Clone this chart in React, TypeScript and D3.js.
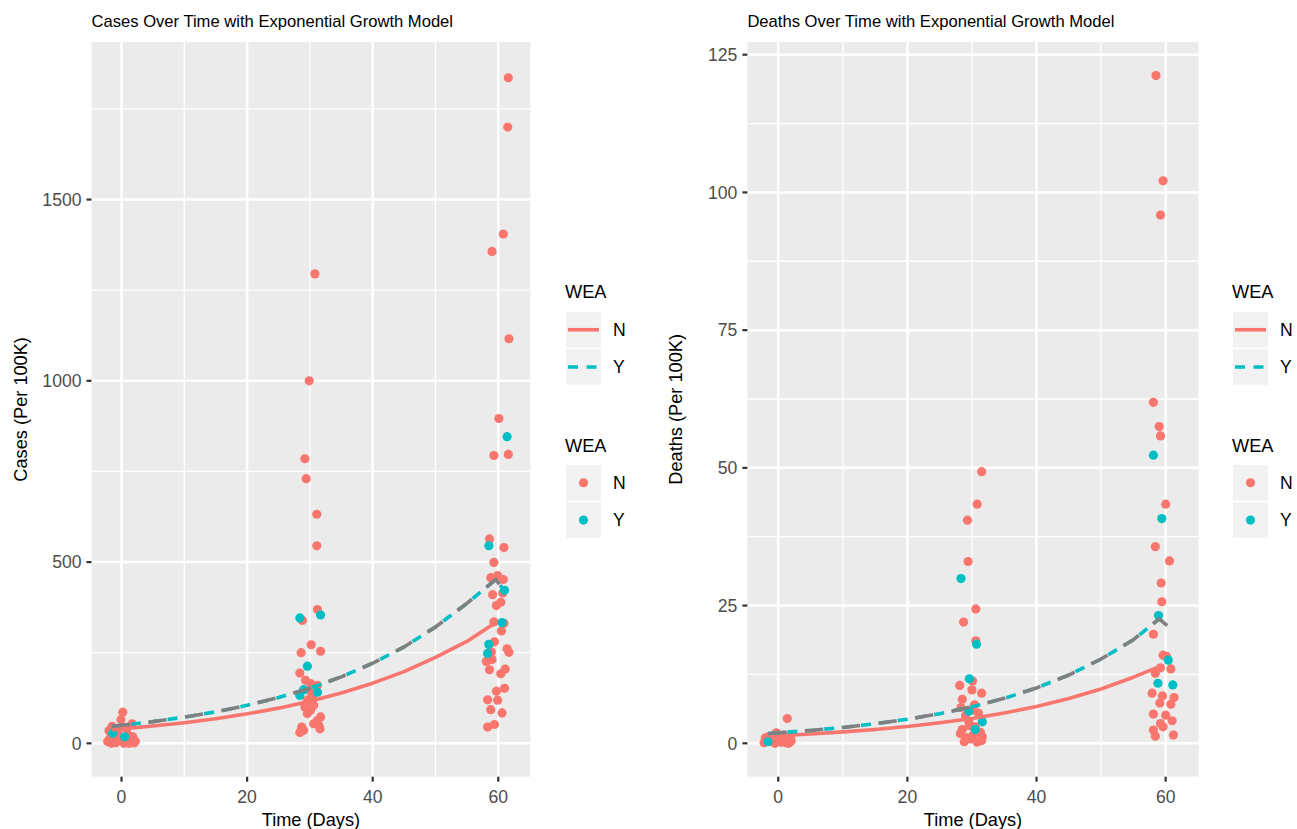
import React from "react";
import * as d3 from "d3";

type P = [number, number];

const timeTicks = [0, 20, 40, 60];
const timeMinor = [10, 30, 50];
const casesTicks = [0, 500, 1000, 1500];
const casesMinor = [250, 750, 1250, 1750];
const deathsTicks = [0, 25, 50, 75, 100, 125];
const deathsMinor = [12.5, 37.5, 62.5, 87.5, 112.5];
const groups = ["N", "Y"];

const casesN: P[] = [
  [-2.2, 5], [-1.9, 12], [-1.5, 47], [-1.2, 20], [-0.9, 2], [-0.6, 30], [-0.3, 8], [0.2, 86], [-0.1, 65], [0.3, 15],
  [0.6, 3], [1.0, 25], [1.4, 10], [1.7, 54], [2.0, 1], [2.2, 6], [-2.0, 35], [0.8, 40], [1.2, 0], [-1.6, 0], [0.4, 0], [1.8, 18],
  [30.8, 1295], [29.9, 1000], [29.2, 785], [29.4, 730], [31.1, 632], [31.1, 545], [31.2, 369], [28.8, 339], [30.2, 272],
  [28.6, 250], [31.7, 254], [28.4, 194], [29.3, 174], [30.1, 165], [31.2, 160], [30.4, 128], [29.6, 119], [30.6, 105],
  [30.1, 91], [29.6, 82], [31.7, 73], [31.2, 63], [30.6, 54], [28.7, 45], [29.0, 36], [31.4, 50], [28.4, 30], [31.6, 40],
  [30.2, 140], [29.2, 100],
  [61.6, 1836], [61.5, 1700], [60.8, 1405], [59.0, 1357], [61.7, 1116], [60.1, 896], [59.3, 794], [61.6, 797], [58.6, 564],
  [60.9, 540], [59.3, 499], [58.8, 457], [59.9, 463], [60.8, 452], [60.7, 415], [59.1, 410], [60.4, 389], [59.7, 380],
  [59.3, 335], [60.9, 331], [60.5, 310], [59.4, 280], [58.9, 252], [61.4, 261], [61.7, 251], [58.1, 226], [59.0, 231],
  [58.6, 203], [61.1, 205], [60.4, 192], [61.0, 152], [59.7, 144], [58.3, 120], [59.9, 119], [58.8, 93], [60.6, 84],
  [59.4, 52], [58.3, 45],
];
const casesY: P[] = [
  [-1.4, 28], [0.5, 18], [31.7, 354], [28.4, 346], [29.6, 213], [29.0, 148], [31.2, 141], [28.4, 132],
  [61.4, 846], [58.5, 545], [61.0, 422], [60.6, 333], [58.5, 273], [58.3, 248],
];
const deathsN: P[] = [
  [-2.2, 0.1], [-1.8, 0.5], [-1.5, 1.2], [-1.0, 0.3], [-0.5, 0], [0, 0.8], [0.4, 0.2], [0.8, 1.5], [1.2, 0.1], [1.6, 0],
  [2.0, 0.4], [-2.0, 1.0], [1.4, 4.5], [-0.3, 1.9], [0.6, 0.6], [1.9, 1.1],
  [31.5, 49.3], [30.8, 43.4], [29.3, 40.5], [29.4, 33], [30.6, 24.4], [28.7, 22], [30.6, 18.6], [28.1, 10.5], [30.1, 11.3],
  [30.0, 9.7], [31.5, 9.1], [28.5, 8], [28.3, 6.5], [29.0, 5], [29.5, 4], [30.0, 6], [30.5, 3], [31.0, 5.5], [31.3, 2],
  [28.5, 2.5], [29.2, 1], [30.2, 1.5], [31.5, 0.5], [28.8, 0.3], [29.8, 0.8], [30.8, 0.2], [31.6, 1.2], [28.2, 1.8],
  [30.4, 7], [29.6, 3.2],
  [58.5, 121.2], [59.6, 102.1], [59.2, 95.9], [58.1, 61.9], [59.0, 57.5], [59.2, 55.8], [60.0, 43.4], [58.4, 35.7],
  [60.6, 33.1], [59.3, 29.1], [59.4, 25.7], [58.1, 19.8], [59.6, 16], [60.1, 15.8], [60.8, 13.5], [59.2, 13.7],
  [58.4, 12.7], [57.9, 9.1], [59.5, 8.6], [61.3, 8.3], [59.1, 7.3], [60.8, 7.1], [58.1, 5.3], [60.0, 5.1], [61.0, 4.1],
  [59.2, 3.6], [58.1, 2.4], [58.4, 1.3], [61.2, 1.5], [59.6, 3.0],
];
const deathsY: P[] = [
  [-1.6, 0.3], [28.3, 29.9], [30.7, 18], [29.6, 11.7], [31.6, 3.9], [29.5, 5.8], [30.5, 2.5],
  [58.1, 52.3], [59.4, 40.8], [58.9, 23.2], [60.4, 15.1], [58.8, 10.9], [61.1, 10.6],
];

const casesLineN: P[] = [
  [-1.5, 37.9], [0, 40], [5, 47.7], [10, 57], [15, 68], [20, 81.4], [25, 97.1], [30, 116.3], [35, 138.7],
  [40, 166], [45, 198], [50, 237], [55, 281], [59.3, 330],
];
const casesLineY: P[] = [
  [-1.6, 46.8], [0, 49.7], [5, 59.9], [10, 72.2], [15, 87], [20, 104.8], [25, 126.3], [30, 152.2], [35, 183.4],
  [40, 221], [45, 266], [50, 321], [55, 386], [59.6, 452], [61, 420],
];
const deathsLineN: P[] = [
  [-1.5, 1.32], [0, 1.4], [5, 1.7], [10, 2.07], [15, 2.51], [20, 3.06], [25, 3.72], [30, 4.52], [35, 5.49],
  [40, 6.68], [45, 8.12], [50, 9.87], [55, 12.0], [59.4, 14.1],
];
const deathsLineY: P[] = [
  [-1.6, 1.77], [0, 1.9], [5, 2.34], [10, 2.88], [15, 3.55], [20, 4.37], [25, 5.38], [30, 6.63], [35, 8.16],
  [40, 10.05], [45, 12.4], [50, 15.3], [55, 18.8], [59, 22.6], [60.3, 21.3],
];

const RED = "#F8766D";
const CYAN = "#00BFC4";
const GRAY = "#808080";
const FONT = "'Liberation Sans', Arial, Helvetica, sans-serif";

interface PanelProps {
  x0: number; x1: number; y0: number; y1: number;
  xDomain: [number, number]; yDomain: [number, number];
  yTicks: number[]; yMinor: number[];
  title: string; yLabel: string;
  ptsN: P[]; ptsY: P[]; lineN: P[]; lineY: P[];
  legendX: number;
}

function Panel(p: PanelProps) {
  const x = d3.scaleLinear().domain(p.xDomain).range([p.x0, p.x1]);
  const y = d3.scaleLinear().domain(p.yDomain).range([p.y1, p.y0]);
  const line = d3.line<P>().x((d) => x(d[0])).y((d) => y(d[1])).curve(d3.curveLinear);
  const lw = 3.6;
  const midY = (p.y0 + p.y1) / 2;
  const midX = (p.x0 + p.x1) / 2;
  const lx = p.legendX;
  const keyW = 35;
  const keyH = 35.5;
  const gap = 1.8;
  return (
    <g>
      <text x={p.x0} y={27} fontSize={16.6} fontFamily={FONT} fill="#000">{p.title}</text>
      <rect x={p.x0} y={p.y0} width={p.x1 - p.x0} height={p.y1 - p.y0} fill="#EBEBEB" />
      {timeMinor.map((t) => (
        <line key={"xm" + t} x1={x(t)} x2={x(t)} y1={p.y0} y2={p.y1} stroke="#fff" strokeWidth={1.3} />
      ))}
      {p.yMinor.map((t) => (
        <line key={"ym" + t} x1={p.x0} x2={p.x1} y1={y(t)} y2={y(t)} stroke="#fff" strokeWidth={1.3} />
      ))}
      {timeTicks.map((t) => (
        <line key={"xM" + t} x1={x(t)} x2={x(t)} y1={p.y0} y2={p.y1} stroke="#fff" strokeWidth={2.5} />
      ))}
      {p.yTicks.map((t) => (
        <line key={"yM" + t} x1={p.x0} x2={p.x1} y1={y(t)} y2={y(t)} stroke="#fff" strokeWidth={2.5} />
      ))}
      {p.ptsN.map((d, i) => (
        <circle key={"n" + i} cx={x(d[0])} cy={y(d[1])} r={4.6} fill={RED} />
      ))}
      {p.ptsY.map((d, i) => (
        <circle key={"y" + i} cx={x(d[0])} cy={y(d[1])} r={4.6} fill={CYAN} />
      ))}
      <path d={line(p.lineN) || ""} fill="none" stroke={RED} strokeWidth={lw} strokeLinejoin="round" />
      <path d={line(p.lineY) || ""} fill="none" stroke={CYAN} strokeWidth={lw} strokeDasharray="10 8.5" strokeDashoffset={17.5} />
      <path d={line(p.lineY) || ""} fill="none" stroke={GRAY} strokeWidth={lw} strokeDasharray="18.5 18.5" />
      {timeTicks.map((t) => (
        <g key={"xt" + t}>
          <line x1={x(t)} x2={x(t)} y1={p.y1} y2={p.y1 + 5} stroke="#333" strokeWidth={2.2} />
          <text x={x(t)} y={802.7} textAnchor="middle" fontSize={17.6} fontFamily={FONT} fill="#4D4D4D">{t}</text>
        </g>
      ))}
      {p.yTicks.map((t) => (
        <g key={"yt" + t}>
          <line x1={p.x0 - 5} x2={p.x0} y1={y(t)} y2={y(t)} stroke="#333" strokeWidth={2.2} />
          <text x={p.x0 - 10} y={y(t) + 6.3} textAnchor="end" fontSize={17.6} fontFamily={FONT} fill="#4D4D4D">{t}</text>
        </g>
      ))}
      <text x={midX} y={825.5} textAnchor="middle" fontSize={18.2} fontFamily={FONT} fill="#000">Time (Days)</text>
      <text transform={`translate(${p.x0 - 65},${midY}) rotate(-90)`} textAnchor="middle" fontSize={18.2} fontFamily={FONT} fill="#000">{p.yLabel}</text>
      <text x={lx - 1} y={298.3} fontSize={18.2} fontFamily={FONT} fill="#000">WEA</text>
      {groups.map((g, i) => {
        const ky = 312 + i * (keyH + gap);
        return (
          <g key={"ll" + g}>
            <rect x={lx} y={ky} width={keyW} height={keyH} fill="#F2F2F2" />
            <line x1={lx + 2} x2={lx + keyW - 2} y1={ky + keyH / 2} y2={ky + keyH / 2}
              stroke={g === "N" ? RED : CYAN} strokeWidth={lw}
              strokeDasharray={g === "N" ? undefined : "10 8.5"} />
            <text x={lx + 47} y={ky + keyH / 2 + 6.4} fontSize={17.6} fontFamily={FONT} fill="#000">{g}</text>
          </g>
        );
      })}
      <text x={lx - 1} y={451.5} fontSize={18.2} fontFamily={FONT} fill="#000">WEA</text>
      {groups.map((g, i) => {
        const ky = 465 + i * (keyH + gap);
        return (
          <g key={"lp" + g}>
            <rect x={lx} y={ky} width={keyW} height={keyH} fill="#F2F2F2" />
            <circle cx={lx + keyW / 2} cy={ky + keyH / 2} r={4.6} fill={g === "N" ? RED : CYAN} />
            <text x={lx + 47} y={ky + keyH / 2 + 6.4} fontSize={17.6} fontFamily={FONT} fill="#000">{g}</text>
          </g>
        );
      })}
    </g>
  );
}

export default function App() {
  const xDomain: [number, number] = [-4.78, 65.1];
  return (
    <svg width={1297} height={829} style={{ display: "block", position: "absolute", left: 0, top: 0, background: "#fff" }}>
      <rect x={0} y={0} width={1297} height={829} fill="#fff" />
      <Panel x0={91.5} x1={530.3} y0={42} y1={776.7} xDomain={xDomain} yDomain={[-92, 1934.6]}
        yTicks={casesTicks} yMinor={casesMinor}
        title="Cases Over Time with Exponential Growth Model" yLabel="Cases (Per 100K)"
        ptsN={casesN} ptsY={casesY} lineN={casesLineN} lineY={casesLineY} legendX={566} />
      <Panel x0={747.4} x1={1198.6} y0={42} y1={776.7} xDomain={xDomain} yDomain={[-6.06, 127.3]}
        yTicks={deathsTicks} yMinor={deathsMinor}
        title="Deaths Over Time with Exponential Growth Model" yLabel="Deaths (Per 100K)"
        ptsN={deathsN} ptsY={deathsY} lineN={deathsLineN} lineY={deathsLineY} legendX={1233} />
    </svg>
  );
}
